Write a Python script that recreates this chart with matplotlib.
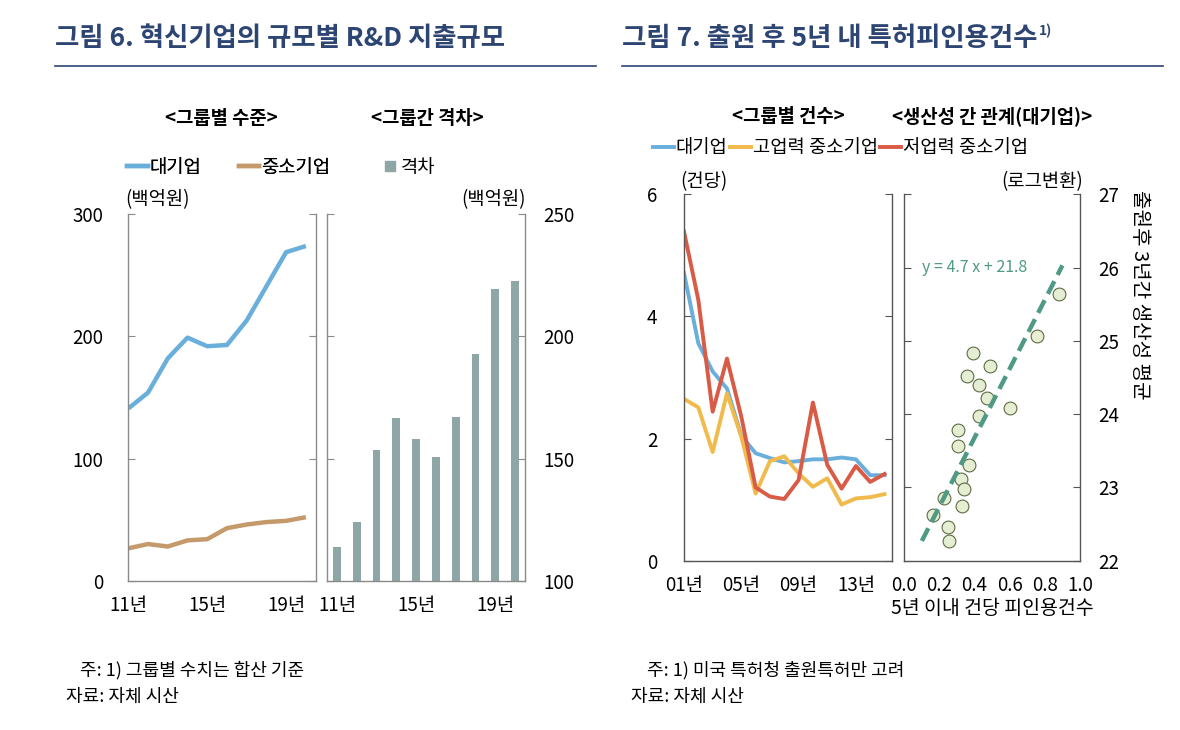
import matplotlib
matplotlib.use("Agg")
import matplotlib.pyplot as plt
from matplotlib.lines import Line2D
import numpy as np

plt.rcParams["font.family"] = ["Noto Sans CJK KR", "DejaVu Sans"]

# ---- data: figure 6 ----
years6 = ["11년", "12년", "13년", "14년", "15년", "16년", "17년", "18년", "19년", "20년"]
large_rd = [141, 154, 182, 199, 192, 193, 213, 241, 269, 274]
small_rd = [26.5, 30, 28, 33, 34, 43, 46, 48, 49, 52]
gap_rd = [114, 124, 153.5, 166.5, 158, 150.5, 167, 193, 219.5, 222.5]

# ---- data: figure 7 ----
years7 = ["01년", "02년", "03년", "04년", "05년", "06년", "07년", "08년",
          "09년", "10년", "11년", "12년", "13년", "14년", "15년"]
cite_large = [4.71, 3.56, 3.10, 2.82, 2.05, 1.76, 1.68, 1.61, 1.63, 1.66,
              1.66, 1.69, 1.66, 1.40, 1.40]
cite_high = [2.65, 2.51, 1.78, 2.74, 2.03, 1.10, 1.63, 1.71, 1.43, 1.21,
             1.35, 0.92, 1.02, 1.04, 1.09]
cite_low = [5.39, 4.27, 2.44, 3.31, 2.36, 1.20, 1.05, 1.01, 1.32, 2.59,
            1.57, 1.18, 1.55, 1.29, 1.42]

scatter_x = [0.882, 0.754, 0.393, 0.490, 0.359, 0.425, 0.469, 0.602, 0.423, 0.306,
             0.306, 0.370, 0.323, 0.340, 0.226, 0.327, 0.165, 0.250, 0.254]
scatter_y = [25.64, 25.07, 24.84, 24.66, 24.52, 24.40, 24.22, 24.09, 23.97, 23.79,
             23.57, 23.31, 23.12, 22.98, 22.86, 22.74, 22.62, 22.46, 22.27]
trend_slope = 4.7
trend_intercept = 21.8
trend_x = [0.1, 0.9]

BLUE = "#6aafdc"
TAN = "#c59a6b"
BAR = "#8fa6a6"
YELLOW = "#f0ba4c"
RED = "#d95b46"
NAVY = "#2d4573"
TEAL = "#4f9a84"

W, H = 1180, 730
fig = plt.figure(figsize=(W / 100, H / 100), dpi=100)

TICK_FS = 13.5


def box(x0, y0, x1, y1):
    return [x0 / W, 1 - y1 / H, (x1 - x0) / W, (y1 - y0) / H]


def px(x, y):
    return x / W, 1 - y / H


def style_ax(ax, spine_col, ypad):
    for s in ["left", "right", "bottom"]:
        ax.spines[s].set_color(spine_col)
        ax.spines[s].set_linewidth(1.0)
    ax.spines["top"].set_visible(False)
    ax.tick_params(axis="y", direction="in", length=5, color=spine_col,
                   left=True, right=True, labelsize=TICK_FS, pad=ypad)
    ax.tick_params(axis="x", length=0, labelsize=TICK_FS, pad=10)


# ---------- Figure 6 ----------
ax1 = fig.add_axes(box(128.3, 214.3, 315.7, 580.7))
idx6 = np.arange(len(years6))
ax1.plot(idx6, large_rd, color=BLUE, lw=3.2, solid_capstyle="butt")
ax1.plot(idx6, small_rd, color=TAN, lw=3.2, solid_capstyle="butt")
ax1.set_xlim(0, 9.5)
ax1.set_ylim(0, 300)
ax1.set_yticks([0, 100, 200, 300])
ax1.set_xticks([0, 4, 8])
ax1.set_xticklabels([years6[0], years6[4], years6[8]])
style_ax(ax1, "#8a8a8a", 18)
ax1.tick_params(axis="y", labelleft=True, labelright=False)

ax2 = fig.add_axes(box(327, 214.3, 525, 580.7))
ax2.bar(idx6, [g - 100 for g in gap_rd], bottom=100, width=0.4, color=BAR)
ax2.set_xlim(-0.5, 9.5)
ax2.set_ylim(100, 250)
ax2.set_yticks([100, 150, 200, 250])
ax2.set_xticks([0, 4, 8])
ax2.set_xticklabels([years6[0], years6[4], years6[8]])
style_ax(ax2, "#8a8a8a", 13)
ax2.tick_params(axis="y", labelleft=False, labelright=True)

# ---------- Figure 7 ----------
ax3 = fig.add_axes(box(684, 194.3, 891.7, 560.7))
idx7 = np.arange(len(years7))
ax3.plot(idx7, cite_large, color=BLUE, lw=2.8)
ax3.plot(idx7, cite_high, color=YELLOW, lw=2.8)
ax3.plot(idx7, cite_low, color=RED, lw=2.8)
ax3.set_xlim(0, 14.5)
ax3.set_ylim(0, 6)
ax3.set_yticks([0, 2, 4, 6])
ax3.set_xticks([0, 4, 8, 12])
ax3.set_xticklabels([years7[0], years7[4], years7[8], years7[12]])
style_ax(ax3, "#555555", 19)
ax3.tick_params(axis="y", labelleft=True, labelright=False)

ax4 = fig.add_axes(box(904.3, 194.3, 1080, 560.7))
ax4.scatter(scatter_x, scatter_y, s=85, facecolor="#e5eed2", edgecolor="#5f6b45",
            linewidth=0.8, zorder=3)
tx = np.array(trend_x)
ax4.plot(tx, trend_slope * tx + trend_intercept, color=TEAL, lw=3.2,
         ls=(0, (3.2, 1.6)), zorder=4)
ax4.text(0.1, 26.0, f"y = {trend_slope} x + {trend_intercept}", color=TEAL,
         fontsize=11.5, va="center", ha="left")
ax4.set_xlim(0, 1.0)
ax4.set_ylim(22, 27)
ax4.set_yticks([22, 23, 24, 25, 26, 27])
ax4.set_xticks([0.0, 0.2, 0.4, 0.6, 0.8, 1.0])
ax4.set_xticklabels(["0.0", "0.2", "0.4", "0.6", "0.8", "1.0"])
style_ax(ax4, "#555555", 13)
ax4.tick_params(axis="y", labelleft=False, labelright=True)
ax4.set_xlabel("5년 이내 건당 피인용건수", fontsize=14, labelpad=2)

# ---------- titles & rules ----------
fig.text(*px(55, 38), "그림 6. 혁신기업의 규모별 R&D 지출규모", fontsize=19,
         fontweight="bold", color=NAVY, va="center", ha="left")
t7 = fig.text(*px(622, 38), "그림 7. 출원 후 5년 내 특허피인용건수", fontsize=19,
              fontweight="bold", color=NAVY, va="center", ha="left")
fig.canvas.draw()
ext = t7.get_window_extent()
fig.text(*px(ext.x1 + 2, 31), "1)", fontsize=10, fontweight="bold", color=NAVY,
         va="center", ha="left")
fig.add_artist(Line2D([55 / W, 596 / W], [1 - 66 / H] * 2, color=NAVY, lw=1.2))
fig.add_artist(Line2D([622 / W, 1163 / W], [1 - 66 / H] * 2, color=NAVY, lw=1.2))

# subtitles
for x, y, t in [(221, 118, "<그룹별 수준>"), (427, 118, "<그룹간 격차>"),
                (788, 116, "<그룹별 건수>"), (992, 116, "<생산성 간 관계(대기업)>")]:
    fig.text(*px(x, y), t, fontsize=13.5, fontweight="bold", ha="center", va="center")

# legends figure 6
leg6a = fig.legend(handles=[Line2D([], [], color=BLUE, lw=3.2),
                            Line2D([], [], color=TAN, lw=3.2)],
                   labels=["대기업", "중소기업"], ncol=2, frameon=False,
                   fontsize=13.5, handlelength=1.1, handletextpad=0.1,
                   columnspacing=2.0, loc="center left",
                   bbox_to_anchor=px(127, 167), borderaxespad=0, borderpad=0)
fig.add_artist(leg6a)
fig.legend(handles=[Line2D([], [], color=BAR, marker="s", ls="", markersize=7)],
           labels=["격차"], frameon=False, fontsize=13.5, handlelength=0.6,
           handletextpad=0.3, loc="center left", bbox_to_anchor=px(384, 167),
           borderaxespad=0, borderpad=0)

# legend figure 7
fig.legend(handles=[Line2D([], [], color=BLUE, lw=2.8),
                    Line2D([], [], color=YELLOW, lw=2.8),
                    Line2D([], [], color=RED, lw=2.8)],
           labels=["대기업", "고업력 중소기업", "저업력 중소기업"], ncol=3,
           frameon=False, fontsize=13.5, handlelength=1.1, handletextpad=0.1,
           columnspacing=0.15, loc="center left", bbox_to_anchor=px(653, 148),
           borderaxespad=0, borderpad=0)

# unit labels
fig.text(*px(125, 200), "(백억원)", fontsize=13.5, ha="left", va="center")
fig.text(*px(526, 200), "(백억원)", fontsize=13.5, ha="right", va="center")
fig.text(*px(680, 182), "(건당)", fontsize=13.5, ha="left", va="center")
fig.text(*px(1083, 182), "(로그변환)", fontsize=13.5, ha="right", va="center")
fig.text(*px(1140, 190), "출원후 3년간 생산성 평균", fontsize=14.5, rotation=-90,
         ha="center", va="top")

# footnotes
fig.text(*px(80, 670), "주: 1) 그룹별 수치는 합산 기준", fontsize=13, ha="left", va="center")
fig.text(*px(66, 697), "자료: 자체 시산", fontsize=13, ha="left", va="center")
fig.text(*px(647, 670), "주: 1) 미국 특허청 출원특허만 고려", fontsize=13, ha="left", va="center")
fig.text(*px(631, 697), "자료: 자체 시산", fontsize=13, ha="left", va="center")

fig.savefig("out.png", dpi=100, facecolor="white")
